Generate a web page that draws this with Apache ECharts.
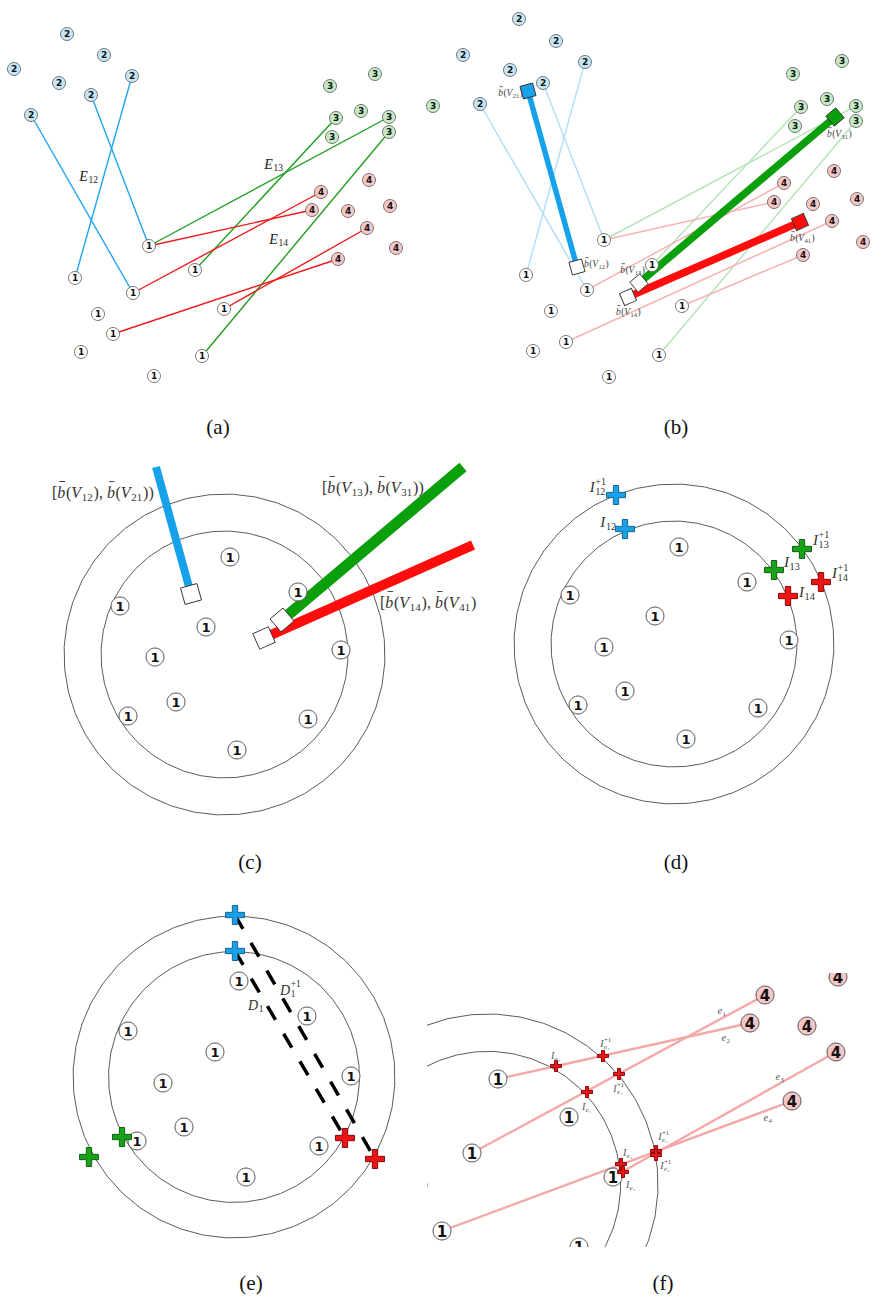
<!DOCTYPE html>
<html><head><meta charset="utf-8">
<script src="https://cdn.jsdelivr.net/npm/echarts@6/dist/echarts.min.js"></script>
<style>html,body{margin:0;padding:0;background:#fff}#c{width:896px;height:1302px}</style>
</head><body><div id="c"></div>
<script>
// ================= DATA (figure coordinates) =================
// node lists: [x, y, cluster]
const nodesA = [
  [67,34,2],[104,55,2],[14,69,2],[59,83,2],[132,76,2],[91,95,2],[31,115,2],
  [330,86,3],[375,74,3],[361,111,3],[336,118,3],[389,117,3],[332,137,3],[389,132,3],[433,106,3],
  [369,180,4],[321,192,4],[312,210,4],[348,211,4],[390,206,4],[367,228,4],[396,248,4],[338,259,4],
  [149,246,1],[195,270,1],[75,278,1],[133,293,1],[98,314,1],[224,309,1],[113,334,1],[81,352,1],[202,356,1],[154,376,1]
];
const edgesA = [
  [31,115,133,293,'b'],[91,95,149,246,'b'],[132,76,75,278,'b'],
  [149,246,389,117,'g'],[195,270,336,118,'g'],[202,356,389,132,'g'],
  [149,246,312,210,'r'],[133,293,321,192,'r'],[113,334,338,259,'r'],[224,309,367,228,'r']
];
const labelsA = [[89,176,'E_{12}','c'],[274,164,'E_{13}','c'],[279,239,'E_{14}','c']];

const nodesB = [
  [519,19,2],[556,41,2],[463,55,2],[510,70,2],[585,62,2],[543,83,2],[480,104,2],
  [842,61,3],[793,74,3],[801,107,3],[827,99,3],[856,106,3],[795,126,3],[856,121,3],
  [834,171,4],[784,183,4],[774,202,4],[813,204,4],[857,199,4],[832,221,4],[863,242,4],[803,255,4],
  [604,240,1],[652,265,1],[526,275,1],[587,290,1],[682,306,1],[551,311,1],[566,342,1],[533,351,1],[659,355,1],[609,377,1]
];
const edgesB = [
  [480,104,587,290,'b'],[543,83,604,240,'b'],[585,62,526,275,'b'],
  [604,240,856,106,'g'],[652,265,801,107,'g'],[659,355,856,121,'g'],
  [604,240,774,202,'r'],[587,290,784,183,'r'],[566,342,832,221,'r'],[682,306,803,255,'r']
];
const barsB = [[528,91,577,267,'b'],[639,283,835,117,'g'],[628,297,800,222,'r']];
const squaresB = [[528,91,'b',0],[577,267,'w',0],[639,283,'w',1],[835,117,'g',1],[628,297,'w',2],[800,222,'r',2]];
const labelsB = [
  [523,93,'b\u0304(V_{21})','r'],[584,264,'b\u0304(V_{12})','l'],[645,270,'b\u0304(V_{13})','r'],
  [616,312,'b\u0304(V_{14})','l'],[827,134,'b\u0304(V_{31})','l'],[790,238,'b\u0304(V_{41})','l']
];

const ringsC = [[224.5,654.5,160.5],[224.5,654.5,123.5]];
const nodesC = [[230,557,1],[298,592,1],[120,606,1],[206,627,1],[341,650,1],[155,657,1],[176,702,1],[128,716,1],[308,719,1],[237,750,1]];
const barsC = [[156,467,191,594,'b'],[463,467,282,620,'g'],[473,545,264,638,'r']];
const squaresC = [[191,594,'w',0],[282,620,'w',1],[264,638,'w',2]];
const labelsC = [
  [52,492,'[b\u0304(V_{12}), b\u0304(V_{21}))','l'],
  [322,487,'[b\u0304(V_{13}), b\u0304(V_{31}))','l'],
  [380,602,'[b\u0304(V_{14}), b\u0304(V_{41})','l']
];

const ringsD = [[674,644,160],[674,644,123]];
const nodesD = [[679,547,1],[747,582,1],[570,595,1],[655,616,1],[789,640,1],[604,647,1],[625,691,1],[578,705,1],[758,708,1],[686,739,1]];
const crossesD = [[616,495,'b'],[625,529,'b'],[802,549,'g'],[774,570,'g'],[821,582,'r'],[788,596,'r']];
const labelsD = [
  [607,487,'I_{12}^{+1}','r'],[617,522,'I_{12}','r'],[813,540,'I_{13}^{+1}','l'],
  [784,562,'I_{13}','l'],[832,573,'I_{14}^{+1}','l'],[799,592,'I_{14}','l']
];

const ringsE = [[234,1077,161],[234,1077,125.5]];
const nodesE = [[239,981,1],[307,1016,1],[128,1031,1],[215,1052,1],[351,1076,1],[163,1083,1],[184,1127,1],[137,1141,1],[319,1146,1],[246,1177,1]];
const crossesE = [[235,915,'b'],[235,951,'b'],[122,1137,'g'],[89,1157,'g'],[345,1138,'r'],[375,1159,'r']];
const dashesE = [[235,951,345,1138],[235,915,375,1159]];
const labelsE = [[248,1005,'D_{1}','l'],[280,990,'D_{1}^{+1}','l']];

const ringsF = [[487.7,1184.3,170.4],[487.7,1184.3,133]];
const nodesF = [[498,1079,1],[569,1117,1],[472,1153,1],[613,1177,1],[442,1231,1],[579,1247,1],[418,1185,1],
  [765,995,4],[750,1023,4],[807,1026,4],[838,977,4],[836,1052,4],[792,1101,4]];
const edgesF = [[472,1153,765,995],[498,1079,750,1023],[613,1177,836,1052],[442,1231,792,1101]];
const crossesF = [[587,1092,'r'],[619,1074,'r'],[556,1066,'r'],[603,1056,'r'],[621,1164,'r'],[656,1151,'r'],[623,1172,'r'],[656,1155,'r']];
const labelsF = [
  [722,1010,'e_{1}','c'],[726,1037,'e_{2}','c'],[780,1076,'e_{3}','c'],[768,1117,'e_{4}','c'],
  [556,1055,'I_{e\u2082}','c'],[606,1043,'I_{e\u2082}^{+1}','c'],[587,1106,'I_{e\u2081}','c'],[619,1088,'I_{e\u2081}^{+1}','c'],
  [628,1152,'I_{e\u2084}','c'],[664,1136,'I_{e\u2084}^{+1}','c'],[631,1184,'I_{e\u2083}','c'],[666,1165,'I_{e\u2083}^{+1}','c']
];

const captions = [[218,427,'(a)'],[676,427,'(b)'],[250,862,'(c)'],[676,862,'(d)'],[251,1283,'(e)'],[663,1283,'(f)']];

// ================= STYLES =================
const NODE_FILL = {1:'#ffffff',2:'#c6e6f7',3:'#c6e9c6',4:'#f7c6c6'};
const EDGE_DARK = {b:'#1ea5ef',g:'#1f9f1f',r:'#f01a1a'};
const EDGE_LIGHT = {b:'#b3dff7',g:'#b8e3b8',r:'#f7b3b3'};
const BAR_COL = {b:'#16a2ea',g:'#0b9f0b',r:'#ff0d0d',w:'#ffffff'};
const CROSS_FILL = {b:'#1aa0e6',g:'#17a317',r:'#ee1414'};
const CROSS_EDGE = {b:'#0d5c85',g:'#0b540b',r:'#7a0000'};
const SERIF = '"Liberation Serif","DejaVu Serif",serif';
const SANS = '"DejaVu Sans",sans-serif';
const CROSS_PATH = 'path://M36,0H64V36H100V64H64V100H36V64H0V36H36Z';

// ================= HELPERS =================
const mctx = document.createElement('canvas').getContext('2d');
function tw(t, font){ mctx.font = font; return mctx.measureText(t).width; }
function parseMath(s){
  const toks=[]; let buf=''; let i=0;
  function readGroup(){ let depth=0, start=i+1;
    for(;i<s.length;i++){ if(s[i]==='{')depth++; else if(s[i]==='}'){depth--; if(depth===0){const g=s.slice(start,i); i++; return g;}}}
    return s.slice(start);
  }
  while(i<s.length){
    const ch=s[i];
    if(ch==='_'||ch==='^'){
      if(buf){toks.push({n:buf}); buf='';}
      let sub='',sup='';
      while(i<s.length && (s[i]==='_'||s[i]==='^')){ const k=s[i]; i++; const g=readGroup(); if(k==='_')sub=g; else sup=g; }
      toks.push({sub,sup});
    } else { buf+=ch; i++; }
  }
  if(buf) toks.push({n:buf});
  return toks;
}
function layoutRuns(text, size, dy, x0, upright, out){
  let acc=0, run='', cls=null;
  const flush=(bar)=>{ if(!run) return; const font=(cls==='i'?'italic ':'')+size+'px '+SERIF;
    const w=tw(run,font);
    out.push({t:run,x:x0+acc,dy,font});
    if(bar) out.push({bar:true,x:x0+acc+w*0.28,dy:dy-size*0.66,w:w*0.68,h:Math.max(0.8,size*0.055)});
    acc+=w+(cls==='i'?size*0.04:0); run=''; };
  const chars=[...text];
  for(let j=0;j<chars.length;j++){
    const c=chars[j]; if(c==='\u0304') continue;
    const k=(!upright && /[A-Za-z]/.test(c)) ? 'i' : 'u';
    const hasBar = chars[j+1]==='\u0304';
    if(k!==cls || hasBar){ flush(false); cls=k; }
    run+=c;
    if(hasBar) flush(true);
  }
  flush(false);
  return acc;
}
function labelSeries(list, size, color, grid, upright, clip){
  return {
    type:'custom', xAxisIndex:grid, yAxisIndex:grid, z:8, silent:true, clip:!!clip,
    data:list.map((l,i)=>[l[0],l[1],i]),
    renderItem(params, api){
      const L=list[api.value(2)];
      const p=api.coord([L[0],L[1]]);
      const els=[]; let x=0;
      for(const tk of parseMath(L[2])){
        if(tk.n!==undefined){ x+=layoutRuns(tk.n,size,0,x,upright,els); }
        else { const ss=+(size*0.68).toFixed(1); let w1=0,w2=0;
          if(tk.sub) w1=layoutRuns(tk.sub,ss,size*0.3,x,false,els);
          if(tk.sup) w2=layoutRuns(tk.sup,ss,-size*0.4,x,false,els);
          x+=Math.max(w1,w2)+size*0.06; }
      }
      const a=L[3]||'l'; const shift=a==='c'?-x/2:(a==='r'?-x:0);
      return {type:'group',children:els.map(e=> e.bar ?
        {type:'rect',shape:{x:p[0]+shift+e.x,y:p[1]+e.dy-e.h/2,width:e.w,height:e.h},style:{fill:color}} :
        {type:'text',x:p[0]+shift+e.x,y:p[1]+e.dy,
        style:{text:e.t,font:e.font,fill:color,align:'left',verticalAlign:'middle',textAlign:'left',textVerticalAlign:'middle'}})};
    }
  };
}
function ringSeries(list, grid, clip){
  return {
    type:'custom', xAxisIndex:grid, yAxisIndex:grid, z:1, silent:true, clip:!!clip,
    data:list,
    renderItem(params, api){
      const c=api.coord([api.value(0),api.value(1)]);
      const r=api.size([api.value(2),0])[0];
      const n=44, pts=[];
      for(let k=0;k<n;k++){ const t=2*Math.PI*k/n+0.05; pts.push([c[0]+r*Math.cos(t), c[1]+r*Math.sin(t)]); }
      return {type:'polygon',shape:{points:pts},style:{fill:'none',stroke:'#4a4a4a',lineWidth:0.9}};
    }
  };
}
function nodeSeries(list, size, font, grid, bw){
  return {
    type:'scatter', xAxisIndex:grid, yAxisIndex:grid, z:5, silent:true, symbol:'circle', symbolSize:size,
    data:list.map(n=>({value:[n[0],n[1]],name:String(n[2]),itemStyle:{color:NODE_FILL[n[2]]}})),
    itemStyle:{borderColor:'#555',borderWidth:bw,opacity:1},
    label:{show:true,position:'inside',formatter:'{b}',fontFamily:SANS,fontWeight:'bold',fontSize:font,color:'#111'}
  };
}
function edgeSeries(list, colors, width, grid, z){
  return {
    type:'lines', coordinateSystem:'cartesian2d', xAxisIndex:grid, yAxisIndex:grid, z:z||2, silent:true,
    data:list.map(e=>({coords:[[e[0],e[1]],[e[2],e[3]]],lineStyle:{color:typeof colors==='string'?colors:colors[e[4]]}})),
    lineStyle:{width:width,opacity:1,cap:'butt'}
  };
}
function barSeries(bars, widths, grid){
  return {
    type:'lines', coordinateSystem:'cartesian2d', xAxisIndex:grid, yAxisIndex:grid, z:3, silent:true,
    data:bars.map(e=>({coords:[[e[0],e[1]],[e[2],e[3]]],lineStyle:{color:BAR_COL[e[4]],width:widths[e[4]]}})),
    lineStyle:{opacity:1,cap:'butt'}
  };
}
function squareSeries(list, bars, size, grid){
  return {
    type:'scatter', xAxisIndex:grid, yAxisIndex:grid, z:6, silent:true, symbol:'rect', symbolSize:size,
    data:list.map(s=>{ const b=bars[s[3]]; const ang=Math.atan2(-(b[3]-b[1]),b[2]-b[0])*180/Math.PI;
      return {value:[s[0],s[1]],symbolRotate:ang,itemStyle:{color:BAR_COL[s[2]]}}; }),
    itemStyle:{borderColor:'#333',borderWidth:0.9,opacity:1}
  };
}
function crossSeries(list, size, grid){
  return {
    type:'scatter', xAxisIndex:grid, yAxisIndex:grid, z:7, silent:true, symbol:CROSS_PATH, symbolSize:size,
    data:list.map(c=>({value:[c[0],c[1]],itemStyle:{color:CROSS_FILL[c[2]],borderColor:CROSS_EDGE[c[2]]}})),
    itemStyle:{borderWidth:0.9,opacity:1}
  };
}

// ================= CHART =================
const chart = echarts.init(document.getElementById('c'), null, {renderer:'svg'});
const series = [];
// panel a
series.push(edgeSeries(edgesA, EDGE_DARK, 1.4, 0));
series.push(nodeSeries(nodesA, 13, 9, 0, 0.8));
series.push(labelSeries(labelsA, 14, '#222', 0));
// panel b
series.push(edgeSeries(edgesB, EDGE_LIGHT, 1.5, 0));
series.push(barSeries(barsB, {b:5.5,g:7.5,r:7.5}, 0));
series.push(nodeSeries(nodesB, 13, 9, 0, 0.8));
series.push(squareSeries(squaresB, barsB, 13, 0));
series.push(labelSeries(labelsB, 9.5, '#444', 0));
// panel c
series.push(ringSeries(ringsC, 0));
series.push(barSeries(barsC, {b:8,g:11,r:10}, 0));
series.push(nodeSeries(nodesC, 18, 13, 0, 1));
series.push(squareSeries(squaresC, barsC, 17, 0));
series.push(labelSeries(labelsC, 16, '#333', 0));
// panel d
series.push(ringSeries(ringsD, 0));
series.push(nodeSeries(nodesD, 18, 13, 0, 1));
series.push(crossSeries(crossesD, 19, 0));
series.push(labelSeries(labelsD, 15, '#333', 0));
// panel e
series.push(ringSeries(ringsE, 0));
series.push({type:'lines',coordinateSystem:'cartesian2d',xAxisIndex:0,yAxisIndex:0,z:3,silent:true,
  data:dashesE.map(e=>({coords:[[e[0],e[1]],[e[2],e[3]]]})),
  lineStyle:{color:'#000',width:3.5,type:[16,16],cap:'butt',opacity:1}});
series.push(nodeSeries(nodesE, 18, 13, 0, 1));
series.push(crossSeries(crossesE, 19, 0));
series.push(labelSeries(labelsE, 14, '#333', 0));
// panel f (clipped window)
series.push(ringSeries(ringsF, 1, true));
series.push(edgeSeries(edgesF, '#f5a8a8', 2.4, 1));
series.push({
  type:'custom', xAxisIndex:1, yAxisIndex:1, z:5, silent:true, clip:true,
  data:nodesF,
  renderItem(params, api){
    const c=api.coord([api.value(0),api.value(1)]); const k=api.value(2);
    return {type:'group',children:[
      {type:'circle',shape:{cx:c[0],cy:c[1],r:9},style:{fill:NODE_FILL[k],stroke:'#555',lineWidth:1}},
      {type:'text',x:c[0],y:c[1]+0.5,style:{text:String(k),font:'bold 15px '+SANS,fill:'#111',align:'center',verticalAlign:'middle',textAlign:'center',textVerticalAlign:'middle'}}
    ]};
  }
});
series.push(crossSeries(crossesF, 11, 1));
series.push(labelSeries(labelsF, 10, '#555', 1, false, true));
// captions
series.push(labelSeries(captions.map(c=>[c[0],c[1],c[2],'c']), 21, '#111', 0, true));

chart.setOption({
  animation:false,
  backgroundColor:'#ffffff',
  grid:[
    {left:0,top:0,width:896,height:1302,show:false},
    {left:427,top:973,width:469,height:274,show:false}
  ],
  xAxis:[
    {type:'value',gridIndex:0,min:0,max:896,show:false,splitLine:{show:false}},
    {type:'value',gridIndex:1,min:427,max:896,show:false,splitLine:{show:false}}
  ],
  yAxis:[
    {type:'value',gridIndex:0,min:0,max:1302,inverse:true,show:false,splitLine:{show:false}},
    {type:'value',gridIndex:1,min:973,max:1247,inverse:true,show:false,splitLine:{show:false}}
  ],
  series
});
</script>
</body></html>
